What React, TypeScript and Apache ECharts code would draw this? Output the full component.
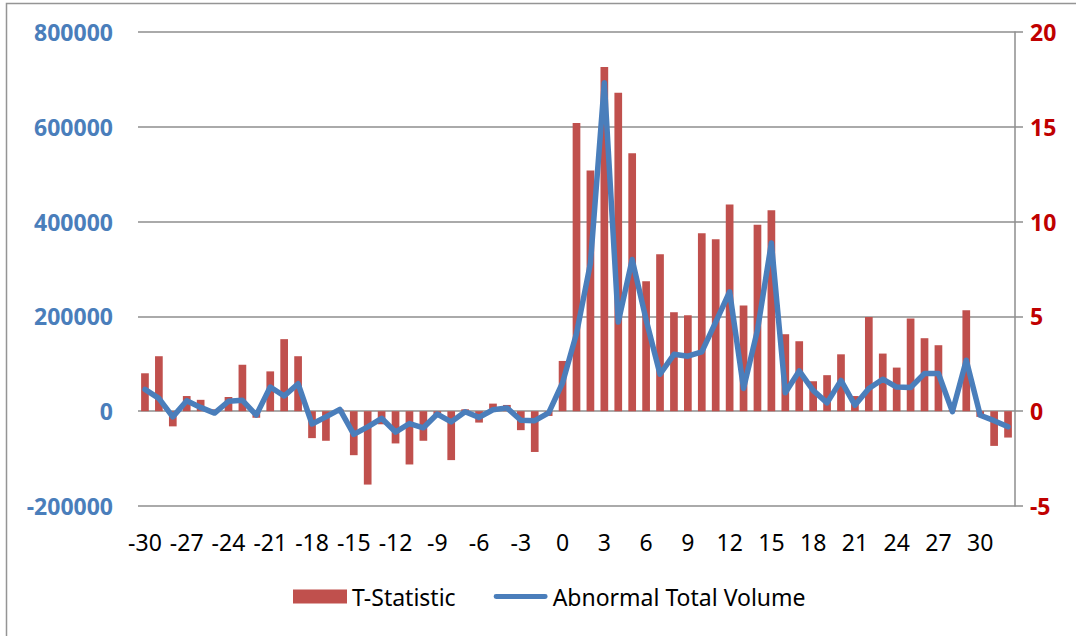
import React, { useEffect, useRef } from "react";
import * as echarts from "echarts";

const categories: string[] = [];
for (let d = -30; d <= 32; d++) categories.push(String(d));

const tStatistic = [
  2.0, 2.9, -0.8, 0.8, 0.6, 0.1, 0.75, 2.45, -0.35, 2.1,
  3.8, 2.9, -1.42, -1.56, 0.1, -2.32, -3.87, -0.69, -1.7, -2.81,
  -1.56, -0.2, -2.58, 0.1, -0.6, 0.4, 0.33, -1.0, -2.15, -0.25,
  2.65, 15.2, 12.7, 18.15, 16.8, 13.6, 6.85, 8.28, 5.22, 5.06,
  9.39, 9.07, 10.9, 5.57, 9.83, 10.6, 4.06, 3.69, 1.58, 1.9,
  3.0, 0.8, 4.97, 3.04, 2.3, 4.89, 3.85, 3.48, 0.05, 5.33,
  -0.3, -1.83, -1.39,
];

const abnormalVolume = [
  46000, 27000, -12000, 22000, 8000, -4000, 21000, 23000, -8000, 51000,
  32000, 58000, -27000, -12000, 4000, -49000, -33000, -15000, -44000, -26000,
  -35000, -6000, -22500, -1000, -13000, 3000, 7000, -19000, -20000, -3500,
  60000, 164000, 312000, 693000, 188000, 320000, 193000, 78000, 120000, 116000,
  125000, 188000, 252000, 48000, 171000, 355000, 39000, 85000, 44000, 17500,
  65000, 12500, 48000, 67500, 51000, 50000, 79500, 79500, -1000, 107600,
  -8500, -20000, -33000,
];

const FONT = "'Noto Sans', 'DejaVu Sans', sans-serif";
const GRID_COLOR = "#8E8E8E";
const LINE_COLOR = "#4A7EBB";
const BAR_COLOR = "#C0504D";

export default function App() {
  const ref = useRef<HTMLDivElement>(null);
  useEffect(() => {
    if (!ref.current) return;
    const chart = echarts.init(ref.current, undefined, { renderer: "svg" });
    chart.setOption({
      animation: false,
      backgroundColor: "#ffffff",
      textStyle: { fontFamily: FONT },
      graphic: [
        {
          type: "rect",
          shape: { x: 6.5, y: 3.5, width: 1200, height: 800 },
          style: { fill: null, stroke: "#959595", lineWidth: 1.5 },
          silent: true,
        },
      ],
      grid: { left: 138, right: 61, top: 32, height: 474, containLabel: false },
      legend: {
        left: 288,
        top: 580,
        itemWidth: 54,
        itemHeight: 14,
        itemGap: 38,
        textStyle: { fontSize: 23, color: "#000000", fontFamily: FONT },
        data: [
          { name: "T-Statistic", icon: "rect", itemStyle: { color: BAR_COLOR } },
          {
            name: "Abnormal Total Volume",
            icon: "path://M2.5,0 L53.5,0 A2.5,2.5 0 0 1 53.5,5 L2.5,5 A2.5,2.5 0 0 1 2.5,0 Z",
            itemStyle: { color: LINE_COLOR },
          },
        ],
      },
      xAxis: {
        type: "category",
        data: categories,
        axisLine: { show: false, onZero: false },
        axisTick: { show: false },
        axisLabel: {
          interval: 2,
          fontSize: 23,
          color: "#000000",
          fontFamily: FONT,
          margin: 24,
        },
        splitLine: { show: false },
      },
      yAxis: [
        {
          type: "value",
          min: -200000,
          max: 800000,
          interval: 200000,
          position: "left",
          axisLine: { show: false },
          axisTick: { show: false },
          axisLabel: {
            fontSize: 23,
            fontWeight: "bold",
            color: LINE_COLOR,
            fontFamily: FONT,
            margin: 25,
            formatter: (v: number) => String(v),
          },
          splitLine: { show: true, lineStyle: { color: GRID_COLOR, width: 1.5 } },
        },
        {
          type: "value",
          min: -5,
          max: 20,
          interval: 5,
          position: "right",
          axisLine: { show: true, onZero: false, lineStyle: { color: GRID_COLOR, width: 1.5 } },
          axisTick: { show: true, inside: false, length: 8, lineStyle: { color: GRID_COLOR, width: 1.5 } },
          axisLabel: {
            fontSize: 23,
            fontWeight: "bold",
            color: "#C00000",
            fontFamily: FONT,
            margin: 15,
          },
          splitLine: { show: false },
        },
      ],
      series: [
        {
          name: "T-Statistic",
          type: "bar",
          yAxisIndex: 1,
          data: tStatistic,
          barWidth: 7.7,
          itemStyle: { color: BAR_COLOR },
        },
        {
          name: "Abnormal Total Volume",
          type: "line",
          yAxisIndex: 0,
          data: abnormalVolume,
          symbol: "none",
          showSymbol: false,
          lineStyle: { color: LINE_COLOR, width: 5.5, cap: "round", join: "round" },
          itemStyle: { color: LINE_COLOR },
        },
      ],
    });
    return () => chart.dispose();
  }, []);
  return (
    <div
      ref={ref}
      style={{ position: "fixed", left: 0, top: 0, width: 1076, height: 636, background: "#fff" }}
    />
  );
}
